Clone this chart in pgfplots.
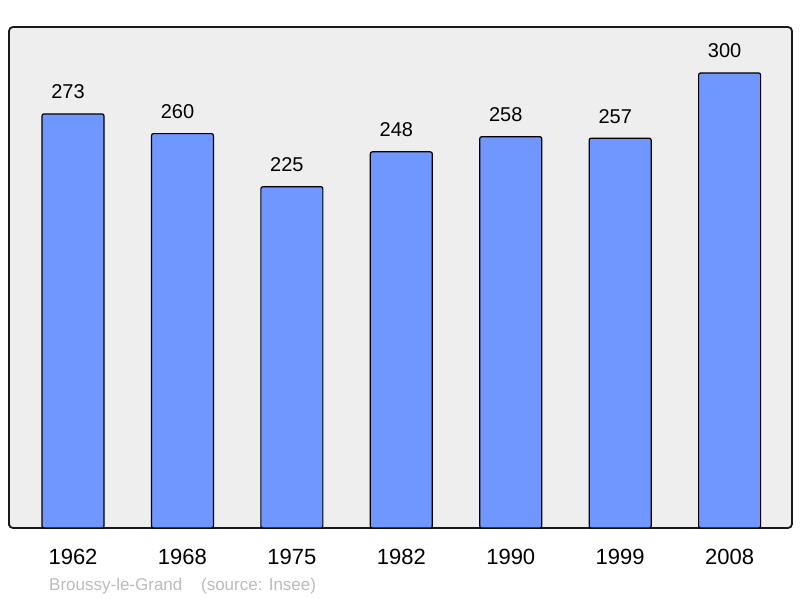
\documentclass[border=0pt]{standalone}
\usepackage{pgfplots}
\pgfplotsset{compat=1.18}
\usepackage{fontspec}
\setmainfont{Liberation Sans}
\definecolor{barblue}{RGB}{112,150,255}
\definecolor{bggray}{RGB}{238,238,238}
\definecolor{srcgray}{RGB}{187,187,187}
\begin{document}
\begin{tikzpicture}[x=1pt,y=1pt]
\path[use as bounding box] (0,0) rectangle (800,598);
\begin{axis}[
  at={(9pt,70pt)}, anchor=south west,
  scale only axis, width=783pt, height=501pt,
  xmin=-0.585, xmax=6.57, ymin=0, ymax=330.3,
  axis background/.style={fill=bggray},
  axis line style={line width=1.8pt, rounded corners=4pt, draw=black!90},
  xtick={0,...,6}, xticklabels={1962,1968,1975,1982,1990,1999,2008},
  ytick=\empty, major tick length=0pt,
  xticklabel style={font=\fontsize{22}{26}\selectfont, anchor=base, inner sep=0pt, yshift=-36pt},
  /pgf/number format/assume math mode=true,
  clip=false,
]
\addplot[ybar, bar width=62pt, fill=barblue, draw=black, line width=1.2pt, rounded corners=2pt,
  nodes near coords,
  every node near coord/.append style={font=\fontsize{20}{24}\selectfont, anchor=base, inner sep=0pt, yshift=15pt, xshift=-5pt},
] coordinates {(0,273) (1,260) (2,225) (3,248) (4,258) (5,257) (6,300)};
\end{axis}
\node[anchor=base west, inner sep=0pt, text=srcgray, font=\fontsize{17}{20}\selectfont] at (49,8) {Broussy-le-Grand\hspace{1.1em}(source: Insee)};
\end{tikzpicture}
\end{document}
